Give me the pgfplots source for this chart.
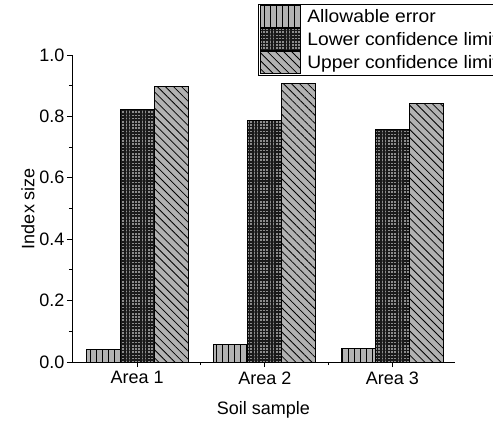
\documentclass[border=0pt]{standalone}
\usepackage{pgfplots}
\pgfplotsset{compat=1.18}
\usepackage{fontspec}
\setmainfont{Liberation Sans}
\newfontfamily\legendfont{Liberation Sans}[FakeStretch=1.07]
\usetikzlibrary{patterns.meta}

\definecolor{barfill}{HTML}{B2B2B2}
\definecolor{darkfill}{HTML}{8C8C8C}

\tikzset{
  errorstyle/.style={draw=black, line width=0.9pt, fill=barfill,
    postaction={pattern={Lines[angle=90,distance=6pt,line width=0.9pt]}, pattern color=black}},
  lowerstyle/.style={draw=black, line width=0.9pt, fill=darkfill,
    postaction={pattern={Lines[angle=0,distance=3.2pt,line width=1.6pt]}, pattern color=black!90},
    postaction={pattern={Lines[angle=90,distance=3.2pt,line width=1.6pt]}, pattern color=black!90}},
  upperstyle/.style={draw=black, line width=0.9pt, fill=barfill,
    postaction={pattern={Lines[angle=-45,distance=5.7pt,line width=0.8pt]}, pattern color=black}},
}

\begin{document}
\begin{tikzpicture}
\begin{axis}[
  at={(72pt,59pt)}, anchor=south west,
  scale only axis, width=383pt, height=307pt,
  ybar=0pt, bar width=34pt,
  xmin=-0.51, xmax=2.49,
  ymin=0, ymax=1.0,
  axis x line*=bottom, axis y line*=left,
  axis line style={line width=0.9pt, -},
  xtick={0,1,2}, xticklabels={Area 1,Area 2,Area 3},
  minor xtick={0.5,1.5,2.5},
  ytick={0,0.2,...,1.0}, minor ytick={0.1,0.3,...,0.9},
  tick align=outside,
  major tick length=5pt, minor tick length=3pt,
  tick style={line width=0.9pt, black},
  font=\fontsize{18}{21}\selectfont,
  tick label style={font=\fontsize{18}{21}\selectfont},
  xticklabel style={yshift=-1pt},
  yticklabel style={xshift=1pt, /pgf/number format/.cd, fixed, fixed zerofill, precision=1, assume math mode=true},
  xlabel={Soil sample}, ylabel={Index size},
  label style={font=\fontsize{18}{21}\selectfont},
  xlabel style={yshift=-10pt},
  ylabel style={yshift=-2pt},
  legend cell align=left,
  legend style={at={(axis description cs:0.4856,1.166)}, anchor=north west,
    draw=black, line width=0.9pt, inner xsep=2pt, inner ysep=1pt,
    row sep=0pt, font=\legendfont\fontsize{18}{21}\selectfont,
    /tikz/every odd column/.append style={column sep=4pt},
    /tikz/every even column/.append style={column sep=12pt}},
  legend image code/.code={\draw[#1] (0pt,-11pt) rectangle (40pt,11pt);},
]
\addplot[errorstyle] coordinates {(0,0.041) (1,0.057) (2,0.045)};
\addplot[lowerstyle] coordinates {(0,0.823) (1,0.786) (2,0.758)};
\addplot[upperstyle] coordinates {(0,0.897) (1,0.906) (2,0.843)};
\legend{Allowable error, Lower confidence limit, Upper confidence limit}
\end{axis}
\pgfresetboundingbox
\path (0,0) rectangle (493pt,421pt);
\end{tikzpicture}
\end{document}
